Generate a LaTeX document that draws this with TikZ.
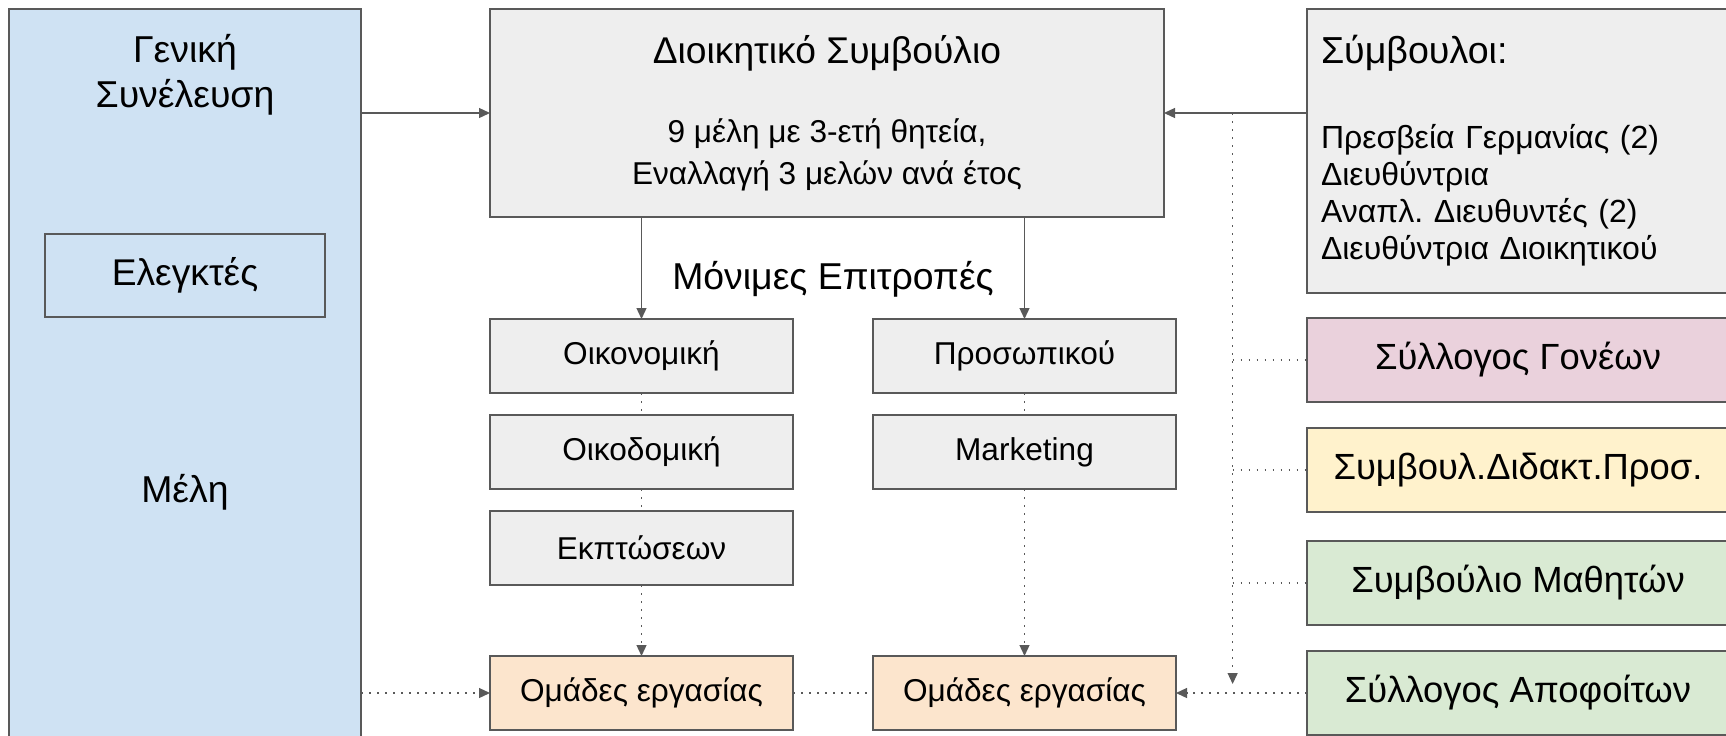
\documentclass[tikz,border=0pt]{standalone}
\usepackage{fontspec}
\setmainfont{Liberation Sans}
\usepackage{xcolor}
\definecolor{boxLine}{HTML}{595959}
\definecolor{assemblyBlue}{HTML}{CFE2F3}
\definecolor{boardGray}{HTML}{EEEEEE}
\definecolor{parentsPink}{HTML}{EAD1DC}
\definecolor{teachersYellow}{HTML}{FFF2CC}
\definecolor{studentsGreen}{HTML}{D9EAD3}
\definecolor{groupOrange}{HTML}{FCE5CD}
\usetikzlibrary{arrows.meta, positioning, calc}
\frenchspacing

\begin{document}
\begin{tikzpicture}[
    x=0.5pt, y=-0.5pt,
    box/.style={
        draw=boxLine,
        line width=0.65pt,
        rectangle,
        inner sep=0pt,
        outer sep=0pt,
        align=center
    },
    assembly/.style={box, fill=assemblyBlue, minimum width=176pt, minimum height=368pt},
    auditor/.style={box, fill=assemblyBlue, minimum width=140pt, minimum height=41.5pt, font=\fontsize{18.6}{22}\selectfont},
    board/.style={box, fill=boardGray, minimum width=337pt, minimum height=104pt, font=\fontsize{15.8}{21}\selectfont},
    advisor/.style={box, fill=boardGray, align=left, text width=203pt, inner xsep=7pt, minimum height=142pt, font=\fontsize{16}{18.5}\selectfont},
    committee/.style={box, fill=boardGray, minimum width=151.5pt, minimum height=37pt, font=\fontsize{15.8}{18}\selectfont},
    workgroup/.style={committee, fill=groupOrange},
    partner/.style={box, minimum width=211pt, minimum height=42pt, font=\fontsize{18.2}{22}\selectfont},
    caption/.style={align=center, inner sep=0pt, font=\fontsize{18.7}{22.5}\selectfont},
    link/.style={draw=boxLine, line width=0.65pt, -{Triangle[length=5.5pt, width=5pt]}},
    dotline/.style={draw=boxLine, line width=0.65pt, dash pattern=on 0.8pt off 3.2pt},
    dotlink/.style={dotline, -{Triangle[length=5.5pt, width=5pt]}}
]
\useasboundingbox (0,0) rectangle (1726,735);
\clip (0,0) rectangle (1726,735);

% General assembly
\node[assembly] (gs) at (185,377) {};
\node[caption] (gsname) at (185,75) {Γενική\\Συνέλευση};
\node[auditor] (audit) at (185,275.5) {Ελεγκτές};
\node[caption] (members) at (185,492) {Μέλη};

% Board and advisors
\node[board] (ds) at (827,113) {{\fontsize{18.6}{22}\selectfont Διοικητικό Συμβούλιο}\\[18.5pt]
    9 μέλη με 3-ετή θητεία,\\Εναλλαγή 3 μελών ανά έτος};
\node[advisor] (adv) at (1524,151) {{\fontsize{18.8}{22}\selectfont Σύμβουλοι:}\\[24pt]
    Πρεσβεία Γερμανίας (2)\\Διευθύντρια\\Αναπλ. Διευθυντές (2)\\Διευθύντρια Διοικητικού};

% Standing committees
\node[caption] (perm) at (833,279) {Μόνιμες Επιτροπές};
\node[committee] (fin) at (641.5,356) {Οικονομική};
\node[committee, below=11pt of fin] (build) {Οικοδομική};
\node[committee, below=11pt of build] (disc) {Εκπτώσεων};
\node[workgroup, below=35.5pt of disc] (wg1) {Ομάδες εργασίας};
\node[committee, right=40pt of fin] (staff) {Προσωπικού};
\node[committee, below=11pt of staff] (mkt) {Marketing};
\node[workgroup, right=40pt of wg1] (wg2) {Ομάδες εργασίας};

% School bodies
\node[partner, fill=parentsPink, below=12.5pt of adv.south west, anchor=north west] (parents) {Σύλλογος Γονέων};
\node[partner, fill=teachersYellow, below=13pt of parents] (teachers) {Συμβουλ.Διδακτ.Προσ.};
\node[partner, fill=studentsGreen, below=14.5pt of teachers] (students) {Συμβούλιο Μαθητών};
\node[partner, fill=studentsGreen, below=13pt of students] (alumni) {Σύλλογος Αποφοίτων};

% Solid links
\draw[link] (gs.east |- ds.west) -- (ds.west);
\draw[link] (adv.west |- ds.east) -- (ds.east);
\draw[link] (fin.north |- ds.south) -- (fin.north);
\draw[link] (staff.north |- ds.south) -- (staff.north);

% Dotted links
\coordinate (tap) at ($(ds.east)!0.48!(adv.west |- ds.east)$);
\draw[dotline] (fin) -- (build);
\draw[dotline] (build) -- (disc);
\draw[dotlink] (disc) -- (wg1);
\draw[dotline] (staff) -- (mkt);
\draw[dotlink] (mkt) -- (wg2);
\draw[dotlink] (gs.east |- wg1.west) -- (wg1.west);
\draw[dotline] (wg1) -- (wg2);
\draw[dotlink] (alumni) -- (wg2);
\draw[dotlink] (tap) -- ($(tap |- wg2.east)+(0,-9)$);
\foreach \body in {parents, teachers, students}
    \draw[dotline] (tap |- \body.west) -- (\body.west);

\end{tikzpicture}
\end{document}
